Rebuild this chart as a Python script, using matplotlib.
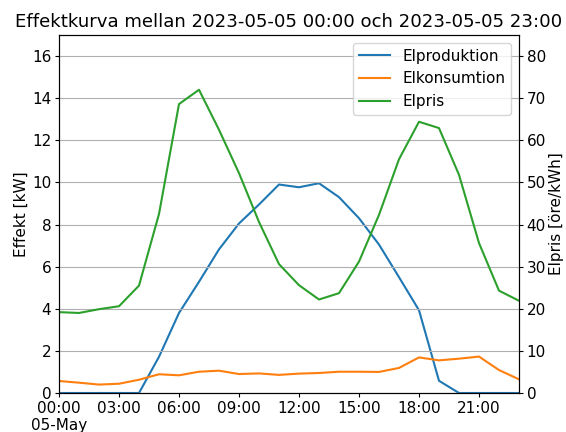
import pandas as pd
from matplotlib import pyplot as plt

hours = pd.date_range("2023-05-05 00:00", periods=24, freq="h")

elproduktion = [0, 0, 0, 0, 0, 1.72, 3.8, 5.28, 6.82, 8.05, 8.95, 9.9,
                9.77, 9.96, 9.3, 8.3, 7.05, 5.5, 3.93, 0.58, 0, 0, 0, 0]
elkonsumtion = [0.57, 0.49, 0.40, 0.44, 0.63, 0.89, 0.84, 1.01, 1.06, 0.90, 0.93, 0.86,
                0.92, 0.95, 1.01, 1.01, 1.0, 1.19, 1.69, 1.55, 1.63, 1.73, 1.09, 0.65]
elpris = [19.2, 19.0, 19.9, 20.6, 25.5, 42.5, 68.6, 72.0, 62.5, 52.2, 40.6, 30.6,
          25.6, 22.2, 23.7, 31.2, 42.3, 55.5, 64.4, 62.9, 51.8, 35.6, 24.3, 21.9]

tick_hours = [0, 3, 6, 9, 12, 15, 18, 21]
tick_labels = ["00:00\n05-May", "03:00", "06:00", "09:00", "12:00", "15:00", "18:00", "21:00"]


def main():
  plt.rcParams["font.size"] = 11
  plt.rcParams["xtick.major.size"] = 3
  plt.rcParams["ytick.major.size"] = 3
  plt.rcParams["xtick.major.pad"] = 2.5
  plt.rcParams["ytick.major.pad"] = 2.5
  plt.rcParams["axes.labelpad"] = 2.5
  fig = plt.figure(figsize=(5.66, 4.32), dpi=100)
  ax = fig.add_axes([59/566, 1-393/432, (519-59)/566, (393-35)/432])
  ax2 = ax.twinx()

  l1, = ax.plot(hours, elproduktion, color="#1f77b4", label="Elproduktion")
  l2, = ax.plot(hours, elkonsumtion, color="#ff7f0e", label="Elkonsumtion")
  l3, = ax2.plot(hours, elpris, color="#2ca02c", label="Elpris")

  ax.set_xlim(hours[0], hours[-1])
  ax.set_ylim(0, 17)
  ax2.set_ylim(0, 85)
  ax.set_xticks([hours[h] for h in tick_hours])
  ax.set_xticklabels(tick_labels, ha="center")
  ax.set_yticks(range(0, 17, 2))
  ax2.set_yticks(range(0, 81, 10))
  ax2.grid(axis="y", color="#b0b0b0")

  ax.set_ylabel("Effekt [kW]")
  ax2.set_ylabel("Elpris [öre/kWh]")
  ax.set_title("Effektkurva mellan 2023-05-05 00:00 och 2023-05-05 23:00", fontsize=13.1)
  ax2.legend([l1, l2, l3], ["Elproduktion", "Elkonsumtion", "Elpris"], loc="upper right")

  fig.savefig("out.png", dpi=100)


if __name__ == "__main__":
  main()
